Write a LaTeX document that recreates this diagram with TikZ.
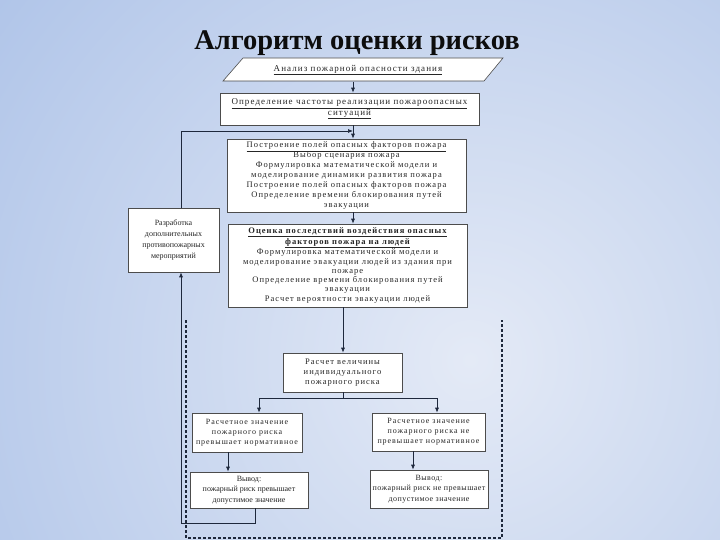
\documentclass[tikz,border=0pt]{standalone}
\usepackage{fontspec}
\setmainfont{Liberation Serif}
\newfontfamily\boxfont[LetterSpace=12]{Liberation Serif}
\newfontfamily\boxfontb{Liberation Serif}
\newfontfamily\boxfontc[LetterSpace=6]{Liberation Serif}
\usetikzlibrary{arrows.meta,calc}
\definecolor{bgout}{RGB}{150,178,226}
\definecolor{bgin}{RGB}{228,234,246}
\definecolor{lnc}{RGB}{30,40,60}
\tikzset{
  box/.style={draw=black!70, fill=white, line width=0.6pt, inner sep=1pt, align=center,
     font=\boxfont\fontsize{8.5}{10}\selectfont, text=black!85},
  arr/.style={draw=lnc, line width=0.7pt, -{Latex[length=5pt,width=4pt]}},
  ln/.style={draw=lnc, line width=0.7pt},
  dashline/.style={draw=lnc, line width=1.1pt, dash pattern=on 3pt off 2pt},
}
\begin{document}
\begin{tikzpicture}[x=1pt,y=-1pt]
\useasboundingbox (0,0) rectangle (720,540);
\begin{scope}
\clip (0,0) rectangle (720,540);
\fill[bgout] (0,0) rectangle (720,540);
\shade[inner color=bgin, outer color=bgout] (470,360) circle (900);
\end{scope}
\node[font=\fontsize{28.5}{30}\selectfont\bfseries, text=black!95] (title) at (357,43) {Алгоритм оценки рисков};
% parallelogram
\fill[white] (243,58) -- (503,58) -- (484,81) -- (223,81) -- cycle;
\draw[black!70, line width=0.6pt] (243,58) -- (503,58) -- (484,81) -- (223,81) -- cycle;
\node[box, draw=none, fill=none, minimum width=240, minimum height=23, font=\boxfont\fontsize{9}{10}\selectfont] (p) at (358,70) {\underline{Анализ пожарной опасности здания}};
\node[box, minimum width=259, minimum height=32, font=\boxfont\fontsize{9}{10.5}\selectfont] (b2) at (349.5,109) {\underline{Определение частоты реализации пожароопасных}\\\underline{ситуаций}};
\node[box, minimum width=239, minimum height=73] (b3) at (346.5,175.5) {\underline{Построение полей опасных факторов пожара}\\Выбор сценария пожара\\Формулировка математической модели и\\моделирование динамики развития пожара\\Построение полей опасных факторов пожара\\Определение времени блокирования путей\\эвакуации};
\node[box, minimum width=91, minimum height=64, font=\boxfontb\fontsize{8}{10.7}\selectfont] (b4) at (173.5,240) {Разработка\\дополнительных\\противопожарных\\мероприятий};
\node[box, minimum width=239, minimum height=83, font=\boxfont\fontsize{8.5}{9.3}\selectfont] (b5) at (347.5,265.5) {\textbf{\underline{Оценка последствий воздействия опасных}}\\\textbf{\underline{факторов пожара на людей}}\\Формулировка математической модели и\\моделирование эвакуации людей из здания при\\пожаре\\Определение времени блокирования путей\\эвакуации\\Расчет вероятности эвакуации людей};
\node[box, minimum width=119, minimum height=39] (b6) at (342.5,372.5) {Расчет величины\\индивидуального\\пожарного риска};
\node[box, minimum width=110, minimum height=39, font=\boxfont\fontsize{8}{10}\selectfont] (b7) at (247,432.5) {Расчетное значение\\пожарного риска\\превышает нормативное};
\node[box, minimum width=113, minimum height=38, font=\boxfont\fontsize{8}{10}\selectfont] (b8) at (428.5,432) {Расчетное значение\\пожарного риска не\\превышает нормативное};
\node[box, minimum width=118, minimum height=36, font=\boxfontb\fontsize{8}{10.5}\selectfont] (b9) at (249,490) {Вывод:\\пожарный риск превышает\\допустимое значение};
\node[box, minimum width=118, minimum height=38, font=\boxfontc\fontsize{8}{10.5}\selectfont] (b10) at (429,489) {Вывод:\\пожарный риск не превышает\\допустимое значение};
% helper coordinates
\coordinate (cx) at (353,0);
\coordinate (c2) at (343,0);
\coordinate (lx) at (181,0);
\coordinate (jn) at (353,131);
\coordinate (sp) at (343,398);
\coordinate (lb) at (181,523);
% connectors
\draw[arr] (p.south -| cx) -- (b2.north -| cx);
\draw[arr] (b2.south -| cx) -- (b3.north -| cx);
\draw[arr] (b4.north -| lx) |- (jn);
\draw[arr] (b3.south -| cx) -- (b5.north -| cx);
\draw[arr] (b5.south -| c2) -- (b6.north -| c2);
\draw[ln] (b6.south -| sp) -- (sp);
\draw[arr] (sp) -| ([xshift=12pt]b7.north);
\draw[arr] (sp) -| ([xshift=8.5pt]b8.north);
\draw[arr] ([xshift=-19pt]b7.south) -- ([xshift=-19pt]b7.south |- b9.north);
\draw[arr] ([xshift=-15.5pt]b8.south) -- ([xshift=-15.5pt]b8.south |- b10.north);
\draw[arr] ([xshift=6pt]b9.south) |- (lb) -- (b4.south -| lb);
% dashed frame
\draw[dashline] (186,320) -- (186,538) -- (502,538) -- (502,320);
\end{tikzpicture}
\end{document}
